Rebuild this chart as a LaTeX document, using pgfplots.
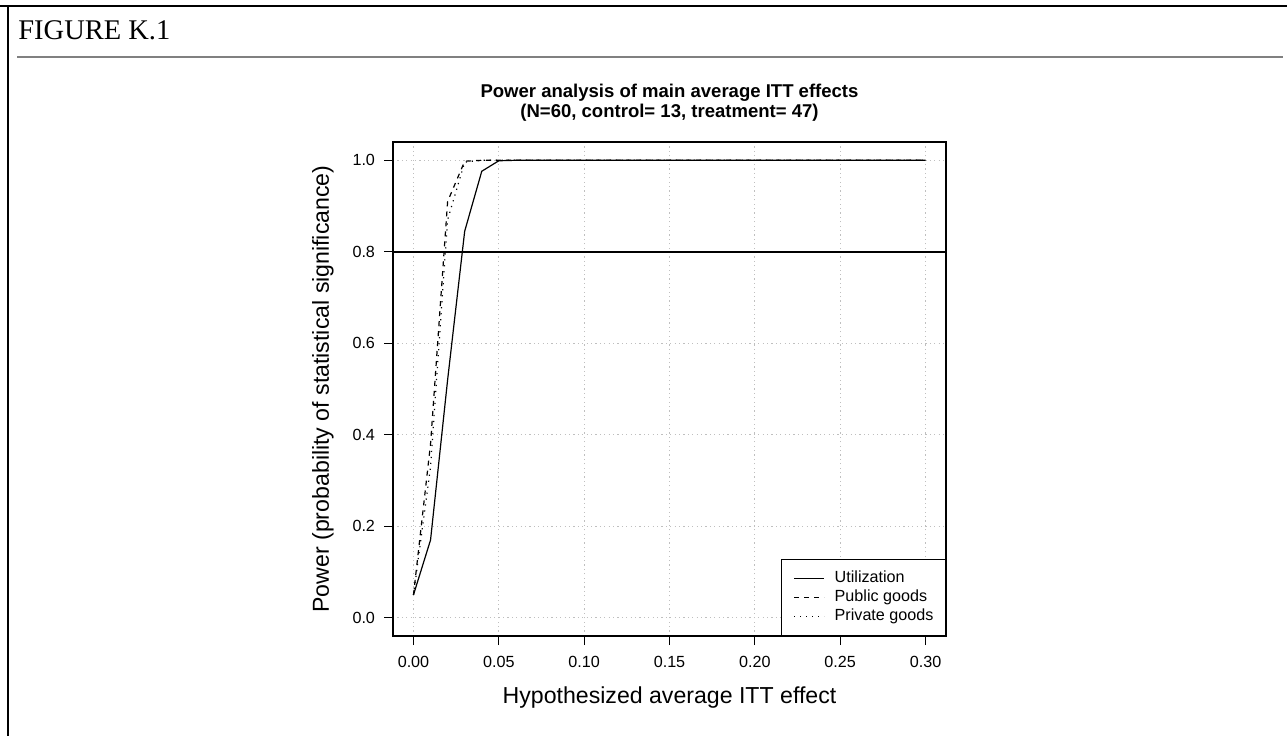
\documentclass[border=0pt]{standalone}
\usepackage{pgfplots}
\usepackage{pgfplotstable}
\pgfplotsset{compat=1.18}
\usepackage{fontspec}
\setmainfont{Liberation Serif}
\newfontfamily\arial{Liberation Sans}

\pgfplotstableread{
x util pub priv
0.00 0.050 0.050 0.050
0.01 0.170 0.380 0.330
0.02 0.520 0.910 0.870
0.03 0.845 0.998 0.996
0.04 0.976 1.000 1.000
0.05 0.999 1.000 1.000
0.06 1.000 1.000 1.000
0.07 1.000 1.000 1.000
0.08 1.000 1.000 1.000
0.09 1.000 1.000 1.000
0.10 1.000 1.000 1.000
0.11 1.000 1.000 1.000
0.12 1.000 1.000 1.000
0.13 1.000 1.000 1.000
0.14 1.000 1.000 1.000
0.15 1.000 1.000 1.000
0.16 1.000 1.000 1.000
0.17 1.000 1.000 1.000
0.18 1.000 1.000 1.000
0.19 1.000 1.000 1.000
0.20 1.000 1.000 1.000
0.21 1.000 1.000 1.000
0.22 1.000 1.000 1.000
0.23 1.000 1.000 1.000
0.24 1.000 1.000 1.000
0.25 1.000 1.000 1.000
0.26 1.000 1.000 1.000
0.27 1.000 1.000 1.000
0.28 1.000 1.000 1.000
0.29 1.000 1.000 1.000
0.30 1.000 1.000 1.000
}\powertable

\begin{document}
\begin{tikzpicture}
\path[use as bounding box] (0,0) rectangle (643.5bp,368bp);
% frame
\draw[black, line width=0.8bp] (0,365bp) -- (643.5bp,365bp);
\draw[black, line width=0.8bp] (4bp,365bp) -- (4bp,0);
\draw[gray, line width=0.9bp] (8.5bp,339.5bp) -- (641.5bp,339.5bp);
\node[anchor=base west, inner sep=0pt, font=\fontsize{14.3}{16}\selectfont] at (9bp,348bp) {FIGURE K.1};

\begin{axis}[
  at={(196.5bp,50bp)}, anchor=south west,
  scale only axis,
  width=276.5bp, height=247bp,
  xmin=-0.012, xmax=0.312, ymin=-0.04, ymax=1.04,
  xtick={0,0.05,0.1,0.15,0.2,0.25,0.3},
  xticklabels={0.00,0.05,0.10,0.15,0.20,0.25,0.30},
  ytick={0,0.2,0.4,0.6,0.8,1.0},
  yticklabels={0.0,0.2,0.4,0.6,0.8,1.0},
  tick align=outside,
  major tick length=4.5bp,
  tick style={black, line width=0.6bp},
  axis line style={black, line width=0.6bp},
  xtick pos=bottom, ytick pos=left,
  grid=major,
  grid style={lightgray, line width=0.5bp, dash pattern=on 0.6bp off 1.6bp},
  font=\arial,
  ticklabel style={font=\arial\fontsize{8.1}{9.5}\selectfont},
  xticklabel style={yshift=-2bp},
  yticklabel style={xshift=-1bp},
  xlabel={Hypothesized average ITT effect},
  ylabel={Power (probability of statistical significance)},
  label style={font=\arial\fontsize{11.6}{13}\selectfont},
  xlabel style={at={(axis description cs:0.5,0)}, anchor=center, yshift=-31bp},
  ylabel style={at={(axis description cs:0,0.5)}, anchor=center, yshift=35bp},
  title={Power analysis of main average ITT effects\\(N=60, control= 13, treatment= 47)},
  title style={font=\arial\bfseries\fontsize{9.3}{10}\selectfont, align=center,
    at={(axis description cs:0.5,1)}, anchor=south, inner sep=0pt, yshift=4bp},
  legend cell align=left,
  legend image code/.code={\draw[#1] (0bp,0bp) -- (15bp,0bp);},
  legend style={
    at={(axis description cs:1,0)}, anchor=south east,
    draw=black, line width=0.6bp, fill=white,
    font=\arial\fontsize{8.1}{9.5}\selectfont,
    inner xsep=6bp, inner ysep=5.5bp,
    row sep=1.8bp,
    nodes={inner sep=0pt, text height=6bp, text depth=1.75bp},
    /tikz/every odd column/.append style={column sep=5bp},
  },
]
\addplot[black, line width=0.6bp] table[x=x, y=util] {\powertable};
\addlegendentry{Utilization}
\addplot[black, line width=0.6bp, dash pattern=on 2.5bp off 2.5bp] table[x=x, y=pub] {\powertable};
\addlegendentry{Public goods}
\addplot[black, line width=0.6bp, dash pattern=on 0.6bp off 2.4bp] table[x=x, y=priv] {\powertable};
\addlegendentry{Private goods}
\addplot[black, line width=0.9bp, forget plot] coordinates {(-0.012,0.8) (0.312,0.8)};
\end{axis}
\end{tikzpicture}
\end{document}
